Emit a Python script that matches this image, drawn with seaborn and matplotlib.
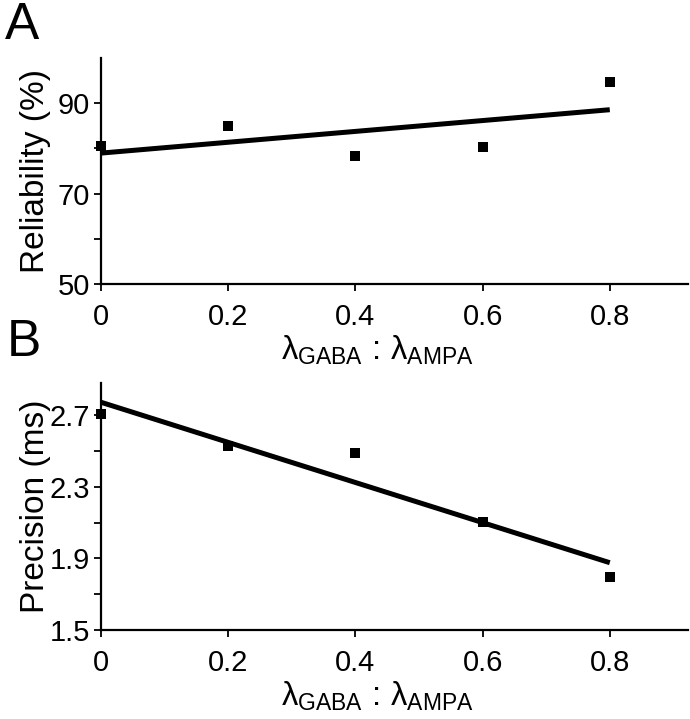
import seaborn as sns
import matplotlib.pyplot as plt
import pandas as pd
from matplotlib.ticker import FixedLocator

# --- data ---
ratio = [0.0, 0.2, 0.4, 0.6, 0.8]
reliability = [80.5, 84.9, 78.3, 80.3, 94.8]
precision = [2.705, 2.528, 2.487, 2.105, 1.796]

rel_major = [50, 70, 90]
rel_minor = [60, 80]
prec_major = [1.5, 1.9, 2.3, 2.7]
prec_minor = [1.7, 2.1, 2.5]
x_ticks = [0, 0.2, 0.4, 0.6, 0.8]
x_labels = ["0", "0.2", "0.4", "0.6", "0.8"]

df = pd.DataFrame({"ratio": ratio, "reliability": reliability,
                   "precision": precision})

sns.set_style("ticks")
plt.rcParams['font.family'] = ['Liberation Sans', 'DejaVu Sans']
plt.rcParams['mathtext.fontset'] = 'custom'
plt.rcParams['mathtext.rm'] = 'Liberation Sans'
plt.rcParams['mathtext.it'] = 'Liberation Sans'
for key in ['text.color', 'axes.labelcolor', 'xtick.color', 'ytick.color']:
    plt.rcParams[key] = 'black'

W, H = 690, 719
fig = plt.figure(figsize=(W / 100, H / 100), dpi=100)

def px_axes(left, top, right, bottom):
    return fig.add_axes([left / W, 1 - bottom / H, (right - left) / W, (bottom - top) / H])

ax_a = px_axes(101, 58, 688, 284)
ax_b = px_axes(101, 383, 688, 630)

xlabel = r"$\lambda_{\mathrm{GABA}}\,:\,\lambda_{\mathrm{AMPA}}$"

panels = [
    (ax_a, "reliability", "Reliability (%)", (50, 100), rel_major, rel_minor),
    (ax_b, "precision", "Precision (ms)", (1.5, 2.88), prec_major, prec_minor),
]

for ax, col, ylab, ylim, major, minor in panels:
    sns.regplot(data=df, x="ratio", y=col, ax=ax, ci=None, marker="s",
                color="black", truncate=True,
                scatter_kws={"s": 62, "linewidths": 0, "zorder": 3,
                             "alpha": 1, "clip_on": False},
                line_kws={"linewidth": 3.6, "solid_capstyle": "butt"})
    ax.set_xlim(0, 0.923)
    ax.set_ylim(*ylim)
    ax.set_xticks(x_ticks)
    ax.set_xticklabels(x_labels)
    ax.set_yticks(major)
    ax.set_yticklabels([f"{v:g}" for v in major])
    ax.yaxis.set_minor_locator(FixedLocator(minor))
    ax.tick_params(axis="both", which="both", direction="out", width=1.3,
                   color="black", labelsize=21, labelcolor="black")
    ax.tick_params(axis="y", which="both", length=5, pad=3)
    ax.tick_params(axis="x", which="both", length=5, pad=9)
    for s in ["top", "right"]:
        ax.spines[s].set_visible(False)
    for s in ["left", "bottom"]:
        ax.spines[s].set_linewidth(1.6)
        ax.spines[s].set_color("black")
    ax.set_ylabel(ylab, fontsize=24, color="black")
    ax.yaxis.set_label_coords(-0.085, 0.5)
    ax.set_xlabel(xlabel, fontsize=23.5, va="top", color="black")

ax_a.xaxis.set_label_coords(0.47, -0.22)
ax_b.xaxis.set_label_coords(0.47, -0.2)

fig.text(5 / W, 1 - 1 / H, "A", fontsize=37, va="top", ha="left")
fig.text(7 / W, 1 - 318 / H, "B", fontsize=37, va="top", ha="left")

fig.savefig("out.png", dpi=100)
plt.close(fig)
